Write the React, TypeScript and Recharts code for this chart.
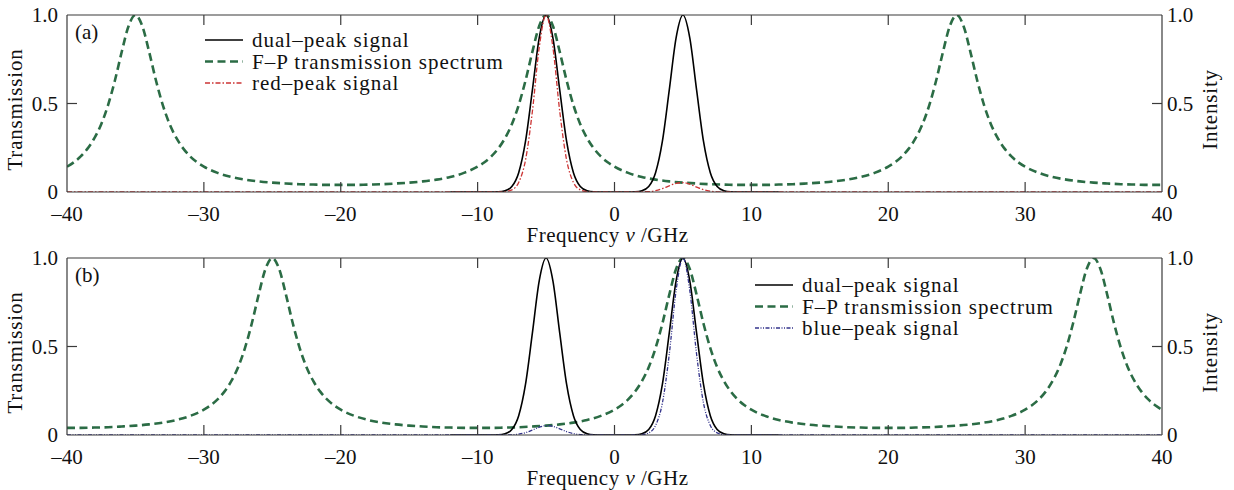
import { LineChart, Line, XAxis, YAxis, Legend } from 'recharts';

// frequency axis (GHz) and level axis ticks
const FREQ_TICKS = [-40, -30, -20, -10, 0, 10, 20, 30, 40];
const INNER_FREQ_TICKS = [-30, -20, -10, 0, 10, 20, 30];
const LEVEL_TICKS = [0, 0.5, 1];
const INNER_LEVEL_TICKS = [0.5];

// F-P transmission, panel (a): peaks at -35, -5, 25 GHz
const fpFreqA = [
  -40, -39.5, -39, -38.5, -38, -37.5, -37, -36.5, -36, -35.5, -35, -34.5, -34, -33.5, -33, -32.5, -32, -31.5, -31, -30.5, -30,
  -29, -28, -27, -26, -25, -24, -23, -22, -21, -20, -19, -18, -17, -16, -15, -14, -13, -12, -11,
  -10, -9.5, -9, -8.5, -8, -7.5, -7, -6.5, -6, -5.5, -5, -4.5, -4, -3.5, -3, -2.5, -2, -1.5, -1, -0.5, 0,
  1, 2, 3, 4, 5, 6, 7, 8, 9, 10, 11, 12, 13, 14, 15, 16, 17, 18, 19,
  20, 20.5, 21, 21.5, 22, 22.5, 23, 23.5, 24, 24.5, 25, 25.5, 26, 26.5, 27, 27.5, 28, 28.5, 29, 29.5, 30,
  31, 32, 33, 34, 35, 36, 37, 38, 39, 40,
];
const fpTransA = [
  0.143, 0.168, 0.201, 0.245, 0.304, 0.383, 0.491, 0.63, 0.792, 0.938, 1, 0.938, 0.792, 0.63, 0.491, 0.383, 0.304, 0.245, 0.201, 0.168, 0.143,
  0.108, 0.085, 0.07, 0.06, 0.053, 0.048, 0.044, 0.042, 0.04, 0.04, 0.04, 0.042, 0.044, 0.048, 0.053, 0.06, 0.07, 0.085, 0.108,
  0.143, 0.168, 0.201, 0.245, 0.304, 0.383, 0.491, 0.63, 0.792, 0.938, 1, 0.938, 0.792, 0.63, 0.491, 0.383, 0.304, 0.245, 0.201, 0.168, 0.143,
  0.108, 0.085, 0.07, 0.06, 0.053, 0.048, 0.044, 0.042, 0.04, 0.04, 0.04, 0.042, 0.044, 0.048, 0.053, 0.06, 0.07, 0.085, 0.108,
  0.143, 0.168, 0.201, 0.245, 0.304, 0.383, 0.491, 0.63, 0.792, 0.938, 1, 0.938, 0.792, 0.63, 0.491, 0.383, 0.304, 0.245, 0.201, 0.168, 0.143,
  0.108, 0.085, 0.07, 0.06, 0.053, 0.048, 0.044, 0.042, 0.04, 0.04,
];

// F-P transmission, panel (b): peaks at -25, 5, 35 GHz
const fpFreqB = [
  -40, -39, -38, -37, -36, -35, -34, -33, -32, -31,
  -30, -29.5, -29, -28.5, -28, -27.5, -27, -26.5, -26, -25.5, -25, -24.5, -24, -23.5, -23, -22.5, -22, -21.5, -21, -20.5, -20,
  -19, -18, -17, -16, -15, -14, -13, -12, -11, -10, -9, -8, -7, -6, -5, -4, -3, -2, -1,
  0, 0.5, 1, 1.5, 2, 2.5, 3, 3.5, 4, 4.5, 5, 5.5, 6, 6.5, 7, 7.5, 8, 8.5, 9, 9.5, 10,
  11, 12, 13, 14, 15, 16, 17, 18, 19, 20, 21, 22, 23, 24, 25, 26, 27, 28, 29,
  30, 30.5, 31, 31.5, 32, 32.5, 33, 33.5, 34, 34.5, 35, 35.5, 36, 36.5, 37, 37.5, 38, 38.5, 39, 39.5, 40,
];
const fpTransB = [
  0.04, 0.04, 0.042, 0.044, 0.048, 0.053, 0.06, 0.07, 0.085, 0.108,
  0.143, 0.168, 0.201, 0.245, 0.304, 0.383, 0.491, 0.63, 0.792, 0.938, 1, 0.938, 0.792, 0.63, 0.491, 0.383, 0.304, 0.245, 0.201, 0.168, 0.143,
  0.108, 0.085, 0.07, 0.06, 0.053, 0.048, 0.044, 0.042, 0.04, 0.04, 0.04, 0.042, 0.044, 0.048, 0.053, 0.06, 0.07, 0.085, 0.108,
  0.143, 0.168, 0.201, 0.245, 0.304, 0.383, 0.491, 0.63, 0.792, 0.938, 1, 0.938, 0.792, 0.63, 0.491, 0.383, 0.304, 0.245, 0.201, 0.168, 0.143,
  0.108, 0.085, 0.07, 0.06, 0.053, 0.048, 0.044, 0.042, 0.04, 0.04, 0.04, 0.042, 0.044, 0.048, 0.053, 0.06, 0.07, 0.085, 0.108,
  0.143, 0.168, 0.201, 0.245, 0.304, 0.383, 0.491, 0.63, 0.792, 0.938, 1, 0.938, 0.792, 0.63, 0.491, 0.383, 0.304, 0.245, 0.201, 0.168, 0.143,
];

// dual-peak signal (same in both panels)
const dualFreq = [
  -12, -10, -9, -8.5, -8, -7.5, -7, -6.5, -6, -5.5, -5, -4.5, -4, -3.5, -3, -2.5, -2, -1.5, -1, 0, 1,
  1.5, 2, 2.5, 3, 3.5, 4, 4.5, 5, 5.5, 6, 6.5, 7, 7.5, 8, 8.5, 9, 10, 12,
];
const dualInt = [
  0, 0, 0, 0.001, 0.007, 0.031, 0.109, 0.287, 0.575, 0.871, 1, 0.871, 0.575, 0.287, 0.109, 0.031, 0.007, 0.001, 0, 0, 0,
  0.001, 0.007, 0.031, 0.109, 0.287, 0.575, 0.871, 1, 0.871, 0.575, 0.287, 0.109, 0.031, 0.007, 0.001, 0, 0, 0,
];

// red-peak signal, panel (a)
const redFreq = [
  -40, -12, -10, -9, -8.5, -8, -7.5, -7, -6.5, -6, -5.5, -5, -4.5, -4, -3.5, -3, -2.5, -2, -1.5, -1, 0, 1,
  1.5, 2, 2.5, 3, 3.5, 4, 4.5, 5, 5.5, 6, 6.5, 7, 7.5, 8, 9, 12, 40,
];
const redInt = [
  0, 0, 0, 0, 0, 0.002, 0.012, 0.054, 0.181, 0.455, 0.817, 1, 0.817, 0.455, 0.181, 0.054, 0.012, 0.002, 0, 0, 0, 0,
  0, 0.001, 0.002, 0.008, 0.019, 0.035, 0.049, 0.053, 0.044, 0.028, 0.013, 0.005, 0.001, 0, 0, 0, 0,
];

// blue-peak signal, panel (b)
const blueFreq = [
  -40, -12, -9, -8, -7.5, -7, -6.5, -6, -5.5, -5, -4.5, -4, -3.5, -3, -2.5, -2, -1.5, -1, 0, 1,
  1.5, 2, 2.5, 3, 3.5, 4, 4.5, 5, 5.5, 6, 6.5, 7, 7.5, 8, 8.5, 9, 10, 12, 40,
];
const blueInt = [
  0, 0, 0, 0, 0.001, 0.005, 0.013, 0.028, 0.044, 0.053, 0.049, 0.035, 0.019, 0.008, 0.002, 0.001, 0, 0, 0, 0,
  0, 0.002, 0.012, 0.054, 0.181, 0.455, 0.817, 1, 0.817, 0.455, 0.181, 0.054, 0.012, 0.002, 0, 0, 0, 0, 0,
];

const FONT = "'Liberation Serif', 'DejaVu Serif', serif";
const FS = 21;
const INK = '#111';
const FRAME = '#3a3a3a';
const GREEN = '#2b6c45';
const RED = '#cc3434';
const BLUE = '#34348c';

const TICK_STYLE = { fill: INK, fontSize: FS, fontFamily: FONT };
const FRAME_LINE = { stroke: FRAME, strokeWidth: 1.2 };

const toPoints = (f: number[], v: number[]) => f.map((x, i) => ({ f: x, v: v[i] }));

const fmtFreq = (v: number) => (v < 0 ? `\u2013${-v}` : `${v}`);
const fmtLevel = (v: number) => (v === 0 ? '0' : v.toFixed(1));

// inner tick marks only, no label
const NoLabel = () => <g />;

interface Series {
  name: string;
  color: string;
  width: number;
  dash?: string;
}

function LegendBox({ items }: { items: Series[] }) {
  return (
    <svg width={340} height={100} style={{ display: 'block' }}>
      {items.map((it, i) => {
        const y = 11 + i * 21.5;
        return (
          <g key={it.name}>
            <line x1={0} x2={38} y1={y} y2={y} stroke={it.color} strokeWidth={it.width} strokeDasharray={it.dash} />
            <text x={47} y={y + 7} style={{ fontFamily: FONT, fontSize: FS, letterSpacing: 1 }} fill={INK}>
              {it.name}
            </text>
          </g>
        );
      })}
    </svg>
  );
}

const yTitle = (text: string, side: 'left' | 'right') => (props: any) => {
  const { x, y, height } = props.viewBox;
  const cx = side === 'left' ? 22 : x + 55;
  const cy = y + height / 2 + 6;
  return (
    <text
      x={cx}
      y={cy}
      transform={`rotate(-90, ${cx}, ${cy})`}
      textAnchor="middle"
      style={{ fontFamily: FONT, fontSize: FS, letterSpacing: 0.8 }}
      fill={INK}
    >
      {text}
    </text>
  );
};

const xTitle = (props: any) => {
  const { x, y, width } = props.viewBox;
  return (
    <text
      x={x + width / 2 - 7}
      y={y + 50}
      textAnchor="middle"
      style={{ fontFamily: FONT, fontSize: FS, letterSpacing: 0.5 }}
      fill={INK}
    >
      Frequency <tspan fontStyle="italic">{'\u03bd'}</tspan> /GHz
    </text>
  );
};

interface PanelProps {
  tag: string;
  top: number;
  height: number;
  plotTop: number;
  xAxisHeight: number;
  fp: { f: number; v: number }[];
  signal: { f: number; v: number }[];
  signalName: string;
  signalColor: string;
  signalDash: string;
  legendLeft: number;
}

function Panel(p: PanelProps) {
  const dual = toPoints(dualFreq, dualInt);
  const legendItems: Series[] = [
    { name: 'dual\u2013peak signal', color: '#000', width: 1.6 },
    { name: 'F\u2013P transmission spectrum', color: GREEN, width: 2.6, dash: '8 4.5' },
    { name: p.signalName, color: p.signalColor, width: 1.3, dash: p.signalDash },
  ];

  return (
    <div style={{ position: 'absolute', left: 0, top: p.top, width: 1234, height: p.height }}>
      <LineChart
        width={1234}
        height={p.height}
        margin={{ top: p.plotTop, right: 0, bottom: p.height - p.plotTop - 177 - p.xAxisHeight, left: 0 }}
        style={{ fontFamily: FONT }}
      >
        <XAxis
          xAxisId="f"
          type="number"
          dataKey="f"
          domain={[-40, 40]}
          allowDataOverflow
          ticks={FREQ_TICKS}
          tickFormatter={fmtFreq}
          tick={TICK_STYLE}
          tickLine={false}
          tickSize={6}
          tickMargin={8}
          axisLine={FRAME_LINE}
          height={p.xAxisHeight}
          label={xTitle}
        />
        <XAxis
          xAxisId="fb"
          type="number"
          dataKey="f"
          domain={[-40, 40]}
          allowDataOverflow
          ticks={INNER_FREQ_TICKS}
          mirror
          tick={NoLabel}
          tickSize={10}
          tickLine={FRAME_LINE}
          axisLine={false}
        />
        <XAxis
          xAxisId="ft"
          orientation="top"
          type="number"
          dataKey="f"
          domain={[-40, 40]}
          allowDataOverflow
          ticks={INNER_FREQ_TICKS}
          mirror
          tick={NoLabel}
          tickSize={10}
          tickLine={FRAME_LINE}
          axisLine={FRAME_LINE}
        />
        <YAxis
          yAxisId="t"
          type="number"
          domain={[0, 1]}
          allowDataOverflow
          ticks={LEVEL_TICKS}
          tickFormatter={fmtLevel}
          tick={TICK_STYLE}
          tickLine={false}
          tickSize={6}
          tickMargin={3}
          width={67}
          axisLine={FRAME_LINE}
          label={yTitle('Transmission', 'left')}
        />
        <YAxis
          yAxisId="tm"
          type="number"
          domain={[0, 1]}
          allowDataOverflow
          ticks={INNER_LEVEL_TICKS}
          mirror
          tick={NoLabel}
          tickSize={10}
          tickLine={FRAME_LINE}
          axisLine={false}
        />
        <YAxis
          yAxisId="i"
          orientation="right"
          type="number"
          domain={[0, 1]}
          allowDataOverflow
          ticks={LEVEL_TICKS}
          tickFormatter={fmtLevel}
          tick={TICK_STYLE}
          tickLine={false}
          tickSize={3}
          tickMargin={2}
          width={72}
          axisLine={FRAME_LINE}
          label={yTitle('Intensity', 'right')}
        />
        <YAxis
          yAxisId="im"
          orientation="right"
          type="number"
          domain={[0, 1]}
          allowDataOverflow
          ticks={INNER_LEVEL_TICKS}
          mirror
          tick={NoLabel}
          tickSize={10}
          tickLine={FRAME_LINE}
          axisLine={false}
        />
        <Line
          xAxisId="f"
          yAxisId="t"
          data={p.fp}
          dataKey="v"
          type="monotone"
          stroke={GREEN}
          strokeWidth={2.6}
          strokeDasharray="8 4.5"
          dot={false}
          isAnimationActive={false}
        />
        <Line
          xAxisId="f"
          yAxisId="i"
          data={dual}
          dataKey="v"
          type="monotone"
          stroke="#000"
          strokeWidth={1.6}
          dot={false}
          isAnimationActive={false}
        />
        <Line
          xAxisId="f"
          yAxisId="i"
          data={p.signal}
          dataKey="v"
          type="monotone"
          stroke={p.signalColor}
          strokeWidth={1.3}
          strokeDasharray={p.signalDash}
          dot={false}
          isAnimationActive={false}
        />
        <Legend
          layout="vertical"
          align="center"
          verticalAlign="middle"
          wrapperStyle={{ left: p.legendLeft, top: 29, width: 340, height: 100 }}
          content={() => <LegendBox items={legendItems} />}
        />
      </LineChart>
      <svg width={60} height={30} style={{ position: 'absolute', left: 70, top: p.plotTop }}>
        <text x={5} y={24} style={{ fontFamily: FONT, fontSize: FS }} fill={INK}>
          {p.tag}
        </text>
      </svg>
    </div>
  );
}

export default function App() {
  return (
    <div style={{ position: 'absolute', left: 0, top: 0, width: 1234, height: 490, background: '#fff' }}>
      <Panel
        tag="(a)"
        top={0}
        height={252}
        plotTop={15}
        xAxisHeight={53}
        fp={toPoints(fpFreqA, fpTransA)}
        signal={toPoints(redFreq, redInt)}
        signalName={'red\u2013peak signal'}
        signalColor={RED}
        signalDash="5 2 1.5 2"
        legendLeft={205}
      />
      <Panel
        tag="(b)"
        top={245}
        height={245}
        plotTop={13}
        xAxisHeight={55}
        fp={toPoints(fpFreqB, fpTransB)}
        signal={toPoints(blueFreq, blueInt)}
        signalName={'blue\u2013peak signal'}
        signalColor={BLUE}
        signalDash="4 1.5 1 1.5 1 1.5"
        legendLeft={755}
      />
    </div>
  );
}
